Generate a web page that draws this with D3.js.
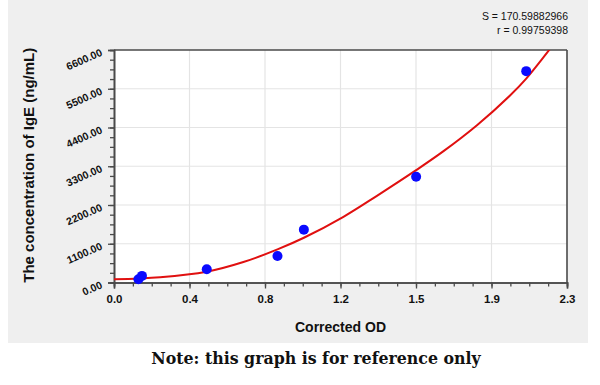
<!DOCTYPE html>
<html>
<head>
<meta charset="utf-8">
<script src="https://cdn.jsdelivr.net/npm/d3@7"></script>
<style>
  html, body { margin: 0; padding: 0; background: #ffffff; }
  svg { display: block; }
</style>
</head>
<body>
<svg id="chart" width="600" height="385"></svg>
<script>
// ---- data ----
const standardOD = [0.124, 0.142, 0.471, 0.830, 0.964, 1.534, 2.093];
const standardConc = [93.75, 187.5, 375, 750, 1500, 3000, 6000];
const curveOD = [0, 0.234, 0.471, 0.657, 0.830, 0.964, 1.165, 1.335, 1.534, 1.673, 1.843, 2.012, 2.093, 2.212];
const curveConc = [91, 150, 306, 580, 940, 1270, 1865, 2461, 3189, 3728, 4465, 5316, 5789, 6620];
const xTickLabels = ["0.0", "0.4", "0.8", "1.2", "1.5", "1.9", "2.3"];
const yTickLabels = ["0.00", "1100.00", "2200.00", "3300.00", "4400.00", "5500.00", "6600.00"];
const statLines = ["S = 170.59882966", "r = 0.99759398"];
const xTitle = "Corrected OD";
const yTitle = "The concentration of IgE (ng/mL)";
const note = "Note: this graph is for reference only";

// ---- layout ----
const svg = d3.select("#chart");
const plot = { left: 114, right: 567, top: 50, bottom: 282.5 };
const xMax = 2.3, yMax = 6600;

svg.append("rect").attr("x", 8).attr("y", 0).attr("width", 580).attr("height", 343)
  .attr("fill", "#efefef");

const x = d3.scaleLinear().domain([0, xMax]).range([plot.left, plot.right]);
const y = d3.scaleLinear().domain([0, yMax]).range([plot.bottom, plot.top]);

svg.append("rect").attr("x", plot.left).attr("y", plot.top)
  .attr("width", plot.right - plot.left).attr("height", plot.bottom - plot.top)
  .attr("fill", "#ffffff");

const xMajor = d3.range(0, 7).map(i => i * xMax / 6);
const xMinor = d3.range(0, 25).map(i => i * xMax / 24);
const yMajor = d3.range(0, 7).map(i => i * yMax / 6);
const yMinor = d3.range(0, 25).map(i => i * yMax / 24);

// grid
const grid = svg.append("g").attr("stroke", "#e4e4e4").attr("stroke-width", 1.2);
grid.selectAll("line.v").data(xMajor.slice(1, -1)).join("line")
  .attr("x1", d => x(d)).attr("x2", d => x(d)).attr("y1", plot.top).attr("y2", plot.bottom);
grid.selectAll("line.h").data(yMajor.slice(1, -1)).join("line")
  .attr("y1", d => y(d)).attr("y2", d => y(d)).attr("x1", plot.left).attr("x2", plot.right);

// axes via d3
const axisColor = "#4a4a4a";
const gx = svg.append("g").attr("transform", `translate(0,${plot.bottom})`);
gx.call(d3.axisBottom(x).tickValues(xMinor).tickSize(4).tickFormat(""));
gx.append("g").call(d3.axisBottom(x).tickValues(xMajor).tickSize(6)
  .tickFormat((d, i) => xTickLabels[i]));
gx.selectAll("path.domain").attr("stroke", axisColor).attr("stroke-width", 1.6);
gx.selectAll("line").attr("stroke", axisColor).attr("stroke-width", 1.3);
gx.selectAll("text").attr("font-family", "Arial, 'Liberation Sans', sans-serif")
  .attr("font-weight", "bold").attr("font-size", 11.5).attr("fill", "#111")
  .attr("dy", null).attr("y", 20);

const gy = svg.append("g").attr("transform", `translate(${plot.left},0)`);
gy.call(d3.axisLeft(y).tickValues(yMinor).tickSize(4).tickFormat(""));
gy.append("g").call(d3.axisLeft(y).tickValues(yMajor).tickSize(6).tickFormat(""));
gy.selectAll("path.domain").attr("stroke", axisColor).attr("stroke-width", 1.6);
gy.selectAll("line").attr("stroke", axisColor).attr("stroke-width", 1.3);

// slanted y tick labels
svg.append("g").selectAll("text").data(yMajor).join("text")
  .attr("transform", d => `translate(${plot.left - 11},${y(d) + 5}) rotate(-24)`)
  .attr("text-anchor", "end")
  .attr("font-family", "Arial, 'Liberation Sans', sans-serif")
  .attr("font-weight", "bold").attr("font-size", 10.5).attr("fill", "#111")
  .text((d, i) => yTickLabels[i]);

// top and right border
svg.append("line").attr("x1", plot.left).attr("x2", plot.right).attr("y1", plot.top).attr("y2", plot.top)
  .attr("stroke", axisColor).attr("stroke-width", 1.6);
svg.append("line").attr("x1", plot.right).attr("x2", plot.right).attr("y1", plot.top).attr("y2", plot.bottom)
  .attr("stroke", axisColor).attr("stroke-width", 1.6);

// curve (clipped to plot)
svg.append("clipPath").attr("id", "clip").append("rect")
  .attr("x", plot.left).attr("y", plot.top)
  .attr("width", plot.right - plot.left).attr("height", plot.bottom - plot.top);
const curvePts = curveOD.map((v, i) => [v, curveConc[i]]);
svg.append("path").datum(curvePts)
  .attr("clip-path", "url(#clip)")
  .attr("d", d3.line().x(d => x(d[0])).y(d => y(d[1])).curve(d3.curveCatmullRom.alpha(0.5)))
  .attr("fill", "none").attr("stroke", "#e01010").attr("stroke-width", 2);

// points
svg.append("g").selectAll("circle").data(standardOD).join("circle")
  .attr("cx", d => x(d)).attr("cy", (d, i) => y(standardConc[i]))
  .attr("r", 5).attr("fill", "#0a0aff");

// titles
svg.append("text").attr("x", (plot.left + plot.right) / 2).attr("y", 332)
  .attr("text-anchor", "middle")
  .attr("font-family", "Arial, 'Liberation Sans', sans-serif")
  .attr("font-weight", "bold").attr("font-size", 14).attr("fill", "#111")
  .text(xTitle);
svg.append("text").attr("transform", `translate(34,${(plot.top + plot.bottom) / 2 - 1}) rotate(-90)`)
  .attr("text-anchor", "middle")
  .attr("font-family", "Arial, 'Liberation Sans', sans-serif")
  .attr("font-weight", "bold").attr("font-size", 15).attr("fill", "#111")
  .text(yTitle);

// stats
svg.append("g").selectAll("text").data(statLines).join("text")
  .attr("x", 568).attr("y", (d, i) => 20 + i * 14)
  .attr("text-anchor", "end")
  .attr("font-family", "Arial, 'Liberation Sans', sans-serif")
  .attr("font-size", 10.5).attr("fill", "#111")
  .text(d => d);

// note
svg.append("text").attr("x", 316).attr("y", 364)
  .attr("text-anchor", "middle")
  .attr("font-family", "'DejaVu Serif', serif")
  .attr("font-weight", "bold").attr("font-size", 15.8).attr("fill", "#111")
  .text(note);
</script>
</body>
</html>
